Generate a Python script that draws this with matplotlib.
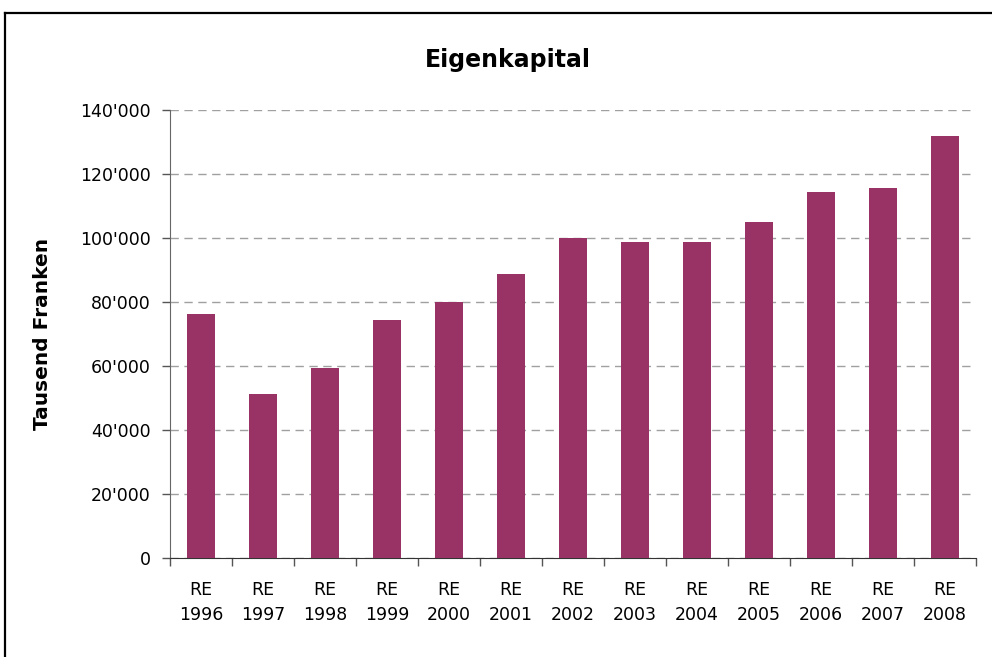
import matplotlib
matplotlib.use("Agg")
import matplotlib.pyplot as plt
from matplotlib.ticker import FuncFormatter, MultipleLocator, FixedLocator
from matplotlib.lines import Line2D

years = ["1996", "1997", "1998", "1999", "2000", "2001", "2002",
         "2003", "2004", "2005", "2006", "2007", "2008"]
tick_labels = ["RE\n" + y for y in years]
values = [76300, 51300, 59500, 74500, 80100, 88800, 100100,
          98800, 98800, 105100, 114500, 115700, 132000]

bar_color = "#993366"
plt.rcParams['font.family'] = ['DejaVu Sans']

fig = plt.figure(figsize=(9.92, 6.57), dpi=100)
ax = fig.add_axes([170/992, 1 - 558.3/657, (976-170)/992, (558.3-110.3)/657])

x = list(range(len(years)))
ax.bar(x, values, width=0.44, color=bar_color, zorder=3)

ax.set_xlim(-0.5, len(years) - 0.5)
ax.set_ylim(0, 140000)
ax.yaxis.set_major_locator(MultipleLocator(20000))
ax.yaxis.set_major_formatter(FuncFormatter(
    lambda v, p: "0" if v == 0 else f"{int(v):,}".replace(",", "'")))

ax.set_xticks(x)
ax.set_xticklabels(tick_labels, fontsize=12.5, linespacing=1.5)
ax.tick_params(axis='x', which='major', length=0, pad=16)
ax.xaxis.set_minor_locator(FixedLocator([i - 0.5 for i in range(len(years) + 1)]))
ax.tick_params(axis='x', which='minor', length=6, width=1, color="#555555", direction='out')
ax.tick_params(axis='y', length=6, width=1, color="#555555", labelsize=12.5, pad=8)

ax.grid(axis='y', color="#a0a0a0", linestyle=(0, (6, 4)), linewidth=1, zorder=0)
ax.set_axisbelow(True)

for s in ["top", "right"]:
    ax.spines[s].set_visible(False)
ax.spines["left"].set_color("#666666")
ax.spines["bottom"].set_color("#333333")

ax.set_ylabel("Tausend Franken", fontsize=14.5, fontweight='bold', labelpad=20)
fig.text(508/992, 1 - 60/657, "Eigenkapital", ha='center', va='center',
         fontsize=17, fontweight='bold')

# outer frame (extends beyond the image on right and bottom)
fig.add_artist(Line2D([5/992, 5/992], [0, 1 - 13/657], transform=fig.transFigure,
                      color="black", linewidth=1.6))
fig.add_artist(Line2D([5/992, 1], [1 - 13/657, 1 - 13/657], transform=fig.transFigure,
                      color="black", linewidth=1.6))

fig.savefig("out.png", dpi=100)
